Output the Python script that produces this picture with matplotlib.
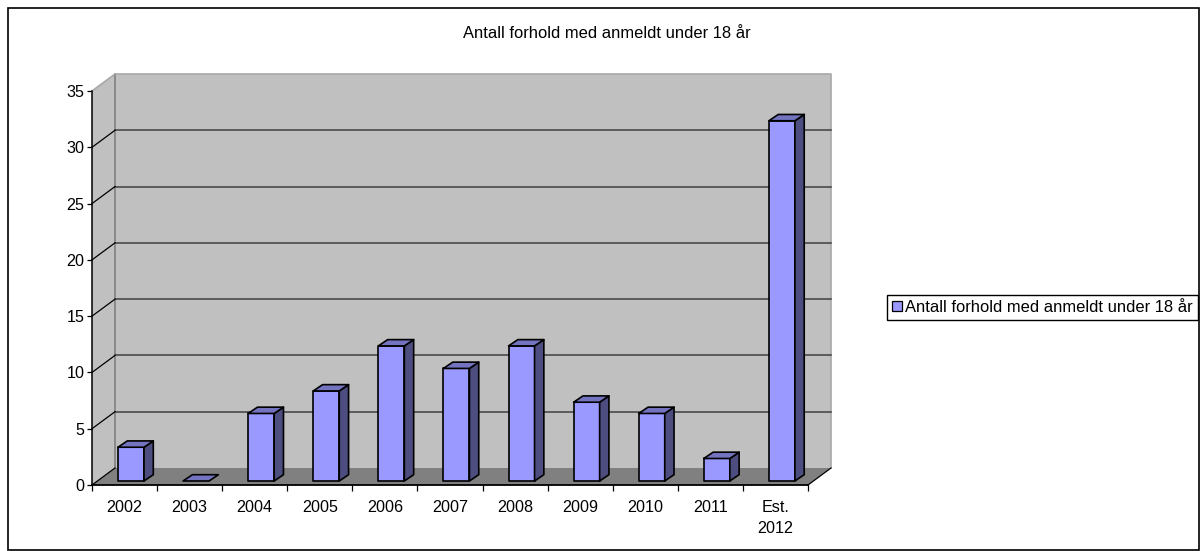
import matplotlib
matplotlib.use('Agg')
import matplotlib.pyplot as plt
from matplotlib.patches import Polygon, Patch, Rectangle

plt.rcParams['font.family'] = ['Liberation Sans', 'DejaVu Sans']

years = ['2002', '2003', '2004', '2005', '2006', '2007', '2008', '2009', '2010', '2011', 'Est.\n2012']
counts = [3, 0, 6, 8, 12, 10, 12, 7, 6, 2, 32]
yticks = [0, 5, 10, 15, 20, 25, 30, 35]
title = 'Antall forhold med anmeldt under 18 år'

W, H = 1200, 551
fig = plt.figure(figsize=(W / 100, H / 100), dpi=100)
fig.patch.set_facecolor('white')
fig.add_artist(Rectangle((8 / W, 1 - 550 / H), 1191 / W, 542 / H, transform=fig.transFigure,
                         fc='none', ec='black', lw=1.2, zorder=-1))

# axes = front plane of the fake 3d box
ax = fig.add_axes([92 / W, 1 - 485 / H, 716 / W, 394 / H])
ax.set_xlim(0, len(years))
ax.set_ylim(0, 35)
ax.patch.set_visible(False)
for s in ax.spines.values():
    s.set_visible(False)

# depth of box and bars, in data units
px_x = len(years) / 716
px_y = 35 / 394
dx, dy = 23 * px_x, 17 * px_y
bar_w = 26 * px_x
bar_dx, bar_dy = 9.3 * px_x, 6.3 * px_y
off_x, off_y = 26 * px_x, 4 * px_y


def poly(pts, **kw):
    ax.add_patch(Polygon(pts, closed=True, clip_on=False, **kw))


n = len(years)
top = yticks[-1]
# walls
poly([(dx, dy), (n + dx, dy), (n + dx, top + dy), (dx, top + dy)], fc='#c0c0c0', ec='none', zorder=1)
poly([(0, 0), (dx, dy), (dx, top + dy), (0, top)], fc='#c0c0c0', ec='none', zorder=1)
poly([(0, 0), (n, 0), (n + dx, dy), (dx, dy)], fc='#808080', ec='none', zorder=1)

# wall edges
ax.plot([dx, dx], [dy, top + dy], color='#808080', lw=1.2, clip_on=False, zorder=2)
ax.plot([0, dx, n + dx, n + dx], [top, top + dy, top + dy, dy], color='#a8a8a8', lw=1.2, clip_on=False, zorder=2)

# gridlines
for v in yticks[1:-1]:
    ax.plot([dx, n + dx], [v + dy, v + dy], color='#404040', lw=1.1, clip_on=False, zorder=2)
for v in yticks[:-1]:
    ax.plot([0, dx], [v, v + dy], color='black', lw=0.9, clip_on=False, zorder=2)
ax.plot([n, n + dx], [0, dy], color='black', lw=0.9, clip_on=False, zorder=2)

# bars
for i, c in enumerate(counts):
    x0 = i + off_x
    y0 = off_y
    x1 = x0 + bar_w
    y1 = c + off_y
    style = dict(ec='black', lw=1.2, joinstyle='round', zorder=3)
    if c > 0:
        poly([(x0, y0), (x1, y0), (x1, y1), (x0, y1)], fc='#9999ff', **style)
        poly([(x1, y0), (x1 + bar_dx, y0 + bar_dy), (x1 + bar_dx, y1 + bar_dy), (x1, y1)], fc='#4d4d80', **style)
    poly([(x0, y1), (x1, y1), (x1 + bar_dx, y1 + bar_dy), (x0 + bar_dx, y1 + bar_dy)], fc='#7373bf', **style)

# axis lines
ax.plot([0, 0], [0, top], color='black', lw=1.1, clip_on=False, zorder=4)
ax.plot([0, n], [0, 0], color='black', lw=1.3, clip_on=False, zorder=4)

ax.set_xticks(range(n + 1))
ax.set_xticklabels([])
ax.set_xticks([i + 0.5 for i in range(n)], minor=True)
ax.set_xticklabels(years, minor=True, fontsize=11.6, color='black', linespacing=1.55, va='top')
ax.tick_params(axis='x', which='major', length=4.5, width=0.9, color='black')
ax.tick_params(axis='x', which='minor', length=0, pad=10.5)
ax.set_yticks(yticks)
ax.tick_params(axis='y', length=3.5, width=0.9, labelsize=11.6, pad=2)

fig.text(607 / W, 1 - 33 / H, title, ha='center', va='center', fontsize=11.9)

leg = fig.legend(handles=[Patch(fc='#9999ff', ec='black', lw=0.9, label=title)],
                 loc='center', bbox_to_anchor=(1042.5 / W, 1 - 307.5 / H), frameon=True, fontsize=11.9,
                 fancybox=False, edgecolor='black', framealpha=1, handlelength=0.6, handleheight=0.6,
                 handletextpad=0.2, borderpad=0.3, borderaxespad=0)
leg.get_frame().set_linewidth(1.0)

fig.savefig('out.png', dpi=100)
